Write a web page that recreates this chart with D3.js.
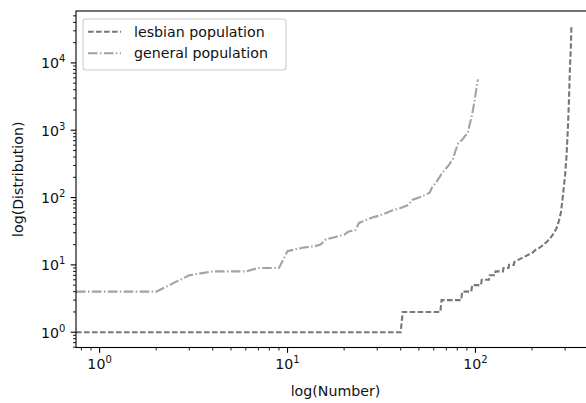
<!DOCTYPE html>
<html>
<head>
<meta charset="utf-8">
<script src="https://cdn.jsdelivr.net/npm/d3@7"></script>
<style>
    body { margin: 0; background: #fff; }
    svg { display: block; font-family: 'DejaVu Sans', sans-serif; }
</style>
</head>
<body>
<svg id="chart" width="586" height="403"></svg>
<script>
// rank (Number) -> sorted value (Distribution)
const lesbianRank = [0, 1, 40, 41, 65, 66, 84, 85, 95, 96, 107, 108, 118, 119, 127, 128, 140, 141, 150, 151, 160, 161, 170, 180, 190, 200, 210, 220, 230, 240, 250, 260, 270, 278, 285, 290, 295, 300, 305, 310, 314, 318, 322, 324]
const lesbianValue = [1, 1, 1, 2, 2, 3, 3, 4, 4, 5, 5, 6, 6, 7, 7, 8, 8, 9, 9, 10, 10, 11, 12, 13, 14, 15, 17, 18, 20, 22, 25, 29, 35, 45, 60, 90, 140, 220, 400, 1000, 2500, 8000, 18000, 35000]
const generalRank = [0, 1, 2, 3, 4, 6, 7, 9, 10, 11, 12, 14, 15, 16, 18, 20, 21, 23, 24, 25, 28, 30, 33, 36, 40, 44, 46, 50, 55, 57, 59, 62, 65, 68, 72, 76, 78, 81, 85, 88, 91, 93, 95, 97, 99, 101, 103]
const generalValue = [4, 4, 4, 7, 8, 8, 9, 9, 16, 17, 18, 19, 20, 24, 26, 28, 31, 33, 42, 44, 50, 53, 58, 64, 70, 78, 92, 100, 112, 118, 145, 170, 210, 250, 300, 380, 480, 640, 720, 820, 900, 1200, 1500, 2000, 2800, 4000, 5700]
const seriesNames = ['lesbian population', 'general population']

const plot = { left: 76, top: 11, right: 595, bottom: 347.5 }
const svg = d3.select('#chart')

let series = [
    { name: seriesNames[0], pts: lesbianRank.map((r, i) => [r, lesbianValue[i]]), color: '#777777', dash: '5.6,2.4' },
    { name: seriesNames[1], pts: generalRank.map((r, i) => [r, generalValue[i]]), color: '#a3a3a3', dash: '9.6,2.4,1.5,2.4' }
]

// log-space 5% margins like matplotlib autoscale
function logDomain (vals) {
    let lo = Math.log10(d3.min(vals.filter(v => v > 0)))
    let hi = Math.log10(d3.max(vals))
    let m = (hi - lo) * 0.05
    return [Math.pow(10, lo - m), Math.pow(10, hi + m)]
}
let allX = series.flatMap(s => s.pts.map(p => p[0]))
let allY = series.flatMap(s => s.pts.map(p => p[1]))

let x = d3.scaleLog().domain(logDomain(allX)).range([plot.left, plot.right]).clamp(true)
let y = d3.scaleLog().domain(logDomain(allY)).range([plot.bottom, plot.top])

function logTicks (scale) {
    let [a, b] = scale.domain()
    let out = []
    for (let d = Math.floor(Math.log10(a)); d <= Math.ceil(Math.log10(b)); d++) {
        for (let k = 1; k < 10; k++) {
            let v = k * Math.pow(10, d)
            if (v >= a && v <= b) out.push({ v: v, major: k === 1, exp: d })
        }
    }
    return out
}

svg.append('defs').append('clipPath').attr('id', 'clip')
    .append('rect')
    .attr('x', plot.left)
    .attr('y', plot.top)
    .attr('width', plot.right - plot.left)
    .attr('height', plot.bottom - plot.top)

let line = d3.line().x(d => x(d[0])).y(d => y(d[1]))

svg.append('g').attr('clip-path', 'url(#clip)').selectAll('path')
    .data(series)
    .enter()
    .append('path')
    .attr('d', d => line(d.pts))
    .attr('fill', 'none')
    .attr('stroke', d => d.color)
    .attr('stroke-width', 2.1)
    .attr('stroke-dasharray', d => d.dash)

// spines
let spines = svg.append('g').attr('stroke', '#000').attr('stroke-width', 1.1)
spines.append('rect')
    .attr('x', plot.left)
    .attr('y', plot.top)
    .attr('width', plot.right - plot.left)
    .attr('height', plot.bottom - plot.top)
    .attr('fill', 'none')

// x ticks
let xt = svg.append('g').selectAll('g')
    .data(logTicks(x))
    .enter()
    .append('g')
    .attr('transform', d => 'translate(' + x(d.v) + ',' + plot.bottom + ')')
xt.append('line')
    .attr('y1', 0)
    .attr('y2', d => d.major ? 5.3 : 3)
    .attr('stroke', '#000')
    .attr('stroke-width', d => d.major ? 1.1 : 0.9)
let xl = xt.filter(d => d.major).append('text')
    .attr('y', 21)
    .attr('text-anchor', 'middle')
    .attr('font-size', '14.2px')
    .attr('fill', '#111')
xl.append('tspan').text('10')
xl.append('tspan').text(d => d.exp).attr('font-size', '10px').attr('dy', '-6')

// y ticks
let yt = svg.append('g').selectAll('g')
    .data(logTicks(y))
    .enter()
    .append('g')
    .attr('transform', d => 'translate(' + plot.left + ',' + y(d.v) + ')')
yt.append('line')
    .attr('x1', 0)
    .attr('x2', d => d.major ? -5.3 : -3)
    .attr('stroke', '#000')
    .attr('stroke-width', d => d.major ? 1.1 : 0.9)
let yl = yt.filter(d => d.major).append('text')
    .attr('x', -10.6)
    .attr('y', 5.5)
    .attr('text-anchor', 'end')
    .attr('font-size', '14.2px')
    .attr('fill', '#111')
yl.append('tspan').text('10')
yl.append('tspan').text(d => d.exp).attr('font-size', '10px').attr('dy', '-6')

// axis titles
svg.append('text')
    .text('log(Number)')
    .attr('x', (plot.left + plot.right) / 2)
    .attr('y', 396)
    .attr('text-anchor', 'middle')
    .attr('font-size', '14.2px')
    .attr('fill', '#111')
svg.append('text')
    .text('log(Distribution)')
    .attr('transform', 'translate(23,' + ((plot.top + plot.bottom) / 2) + ') rotate(-90)')
    .attr('text-anchor', 'middle')
    .attr('font-size', '14.2px')
    .attr('fill', '#111')

// legend
let legend = svg.append('g').attr('transform', 'translate(83,19)')
legend.append('rect')
    .attr('width', 203)
    .attr('height', 51)
    .attr('rx', 3)
    .attr('ry', 3)
    .attr('fill', 'white')
    .attr('fill-opacity', 0.8)
    .attr('stroke', '#cccccc')
    .attr('stroke-width', 1.1)
let item = legend.selectAll('g.item')
    .data(series)
    .enter()
    .append('g')
    .attr('class', 'item')
    .attr('transform', (d, i) => 'translate(0,' + (12.7 + i * 21.6) + ')')
item.append('line')
    .attr('x1', 5)
    .attr('x2', 38)
    .attr('stroke', d => d.color)
    .attr('stroke-width', 2.1)
    .attr('stroke-dasharray', d => d.dash)
item.append('text')
    .text(d => d.name)
    .attr('x', 51)
    .attr('y', 5)
    .attr('font-size', '14.2px')
    .attr('fill', '#111')
</script>
</body>
</html>
